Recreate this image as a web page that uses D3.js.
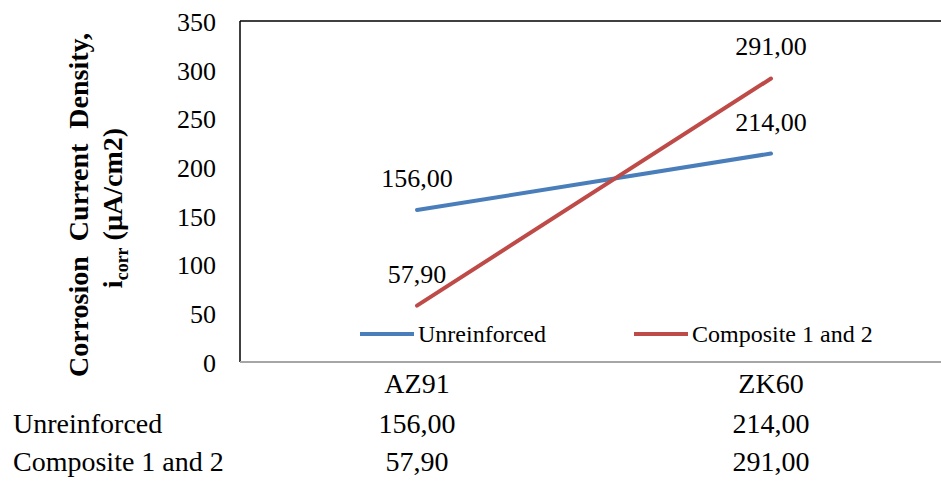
<!DOCTYPE html>
<html>
<head>
<meta charset="utf-8">
<script src="https://cdn.jsdelivr.net/npm/d3@7"></script>
<style>
  html, body { margin: 0; padding: 0; background: #fff; }
  svg, svg text { font-family: "Times New Roman", "Liberation Serif", "DejaVu Serif", serif !important; }
  svg { display: block; }
</style>
</head>
<body>
<svg id="chart" width="941" height="482"></svg>
<script>
// Alloys on the category axis
const categories = ["AZ91", "ZK60"];
// Corrosion current density per series (µA/cm2)
const seriesNames = ["Unreinforced", "Composite 1 and 2"];
const unreinforced = [156.00, 214.00];
const composite = [57.90, 291.00];
const seriesColors = ["#4A7EBB", "#BE4B48"];
// Value axis ticks
const yTicks = [0, 50, 100, 150, 200, 250, 300, 350];

const fmt = v => v.toFixed(2).replace(".", ",");
const series = [
  { name: seriesNames[0], values: unreinforced, color: seriesColors[0] },
  { name: seriesNames[1], values: composite, color: seriesColors[1] }
];

const svg = d3.select("#chart");
const plot = { left: 240, top: 21, right: 948, bottom: 362 };

const x = d3.scaleBand().domain(categories).range([plot.left, plot.right]).padding(0);
const cx = c => x(c) + x.bandwidth() / 2;
const y = d3.scaleLinear().domain([0, 350]).range([plot.bottom, plot.top]);

// Plot area frame: dark top and left, grey category axis
svg.append("line").attr("x1", plot.left).attr("x2", plot.right)
  .attr("y1", plot.top).attr("y2", plot.top)
  .attr("stroke", "#000").attr("stroke-width", 1.5);
svg.append("line").attr("x1", plot.left).attr("x2", plot.left)
  .attr("y1", plot.top).attr("y2", plot.bottom)
  .attr("stroke", "#000").attr("stroke-width", 1.5);

// Value axis labels
const yAxis = d3.axisLeft(y).tickValues(yTicks).tickSize(0).tickPadding(24);
const gy = svg.append("g").attr("transform", `translate(${plot.left},0)`).call(yAxis);
gy.attr("font-family", null);
gy.select(".domain").remove();
gy.selectAll("text").attr("font-size", 26).attr("fill", "#000").attr("dy", "0.36em");

// Category axis line
svg.append("line").attr("x1", plot.left).attr("x2", plot.right)
  .attr("y1", plot.bottom).attr("y2", plot.bottom)
  .attr("stroke", "#A6A6A6").attr("stroke-width", 2);

// Series lines
const line = d3.line().x((d, i) => cx(categories[i])).y(d => y(d));
svg.selectAll("path.series").data(series).join("path")
  .attr("class", "series")
  .attr("d", s => line(s.values))
  .attr("fill", "none")
  .attr("stroke", s => s.color)
  .attr("stroke-width", 4)
  .attr("stroke-linecap", "round");

// Data labels above each point
series.forEach(s => {
  svg.selectAll(null).data(s.values).join("text")
    .attr("x", (d, i) => cx(categories[i]))
    .attr("y", d => y(d) - 23)
    .attr("text-anchor", "middle")
    .attr("font-size", 26)
    .attr("fill", "#000")
    .text(d => fmt(d));
});

// Legend inside the plot area
const legendX = [360, 634];
const legendY = 334;
series.forEach((s, i) => {
  svg.append("line")
    .attr("x1", legendX[i]).attr("x2", legendX[i] + 54)
    .attr("y1", legendY).attr("y2", legendY)
    .attr("stroke", s.color).attr("stroke-width", 4);
  svg.append("text")
    .attr("x", legendX[i] + 58).attr("y", legendY + 8)
    .attr("font-size", 24).attr("fill", "#000")
    .text(s.name);
});

// Data table under the chart: category header and one row per series
svg.selectAll("text.cat").data(categories).join("text")
  .attr("class", "cat")
  .attr("x", c => cx(c)).attr("y", 393)
  .attr("text-anchor", "middle").attr("font-size", 28).attr("fill", "#000")
  .text(c => c);

const rowY = [433, 471];
series.forEach((s, r) => {
  svg.append("text").attr("x", 13).attr("y", rowY[r])
    .attr("font-size", 28).attr("fill", "#000").text(s.name);
  svg.selectAll(null).data(s.values).join("text")
    .attr("x", (d, i) => cx(categories[i])).attr("y", rowY[r])
    .attr("text-anchor", "middle").attr("font-size", 28).attr("fill", "#000")
    .text(d => fmt(d));
});

// Value axis title (two rotated lines, bold)
const title = svg.append("g").attr("font-weight", "bold").attr("font-size", 28).attr("fill", "#000");
title.append("text")
  .attr("transform", "translate(88,205) rotate(-90)")
  .attr("text-anchor", "middle")
  .attr("word-spacing", 8)
  .text("Corrosion Current Density,");
const t2 = title.append("text")
  .attr("transform", "translate(122,208) rotate(-90)")
  .attr("text-anchor", "middle");
t2.append("tspan").text("i");
t2.append("tspan").attr("font-size", 18).attr("dy", 6).text("corr");
t2.append("tspan").attr("dy", -6).text(" (µA/cm2)");
</script>
</body>
</html>
